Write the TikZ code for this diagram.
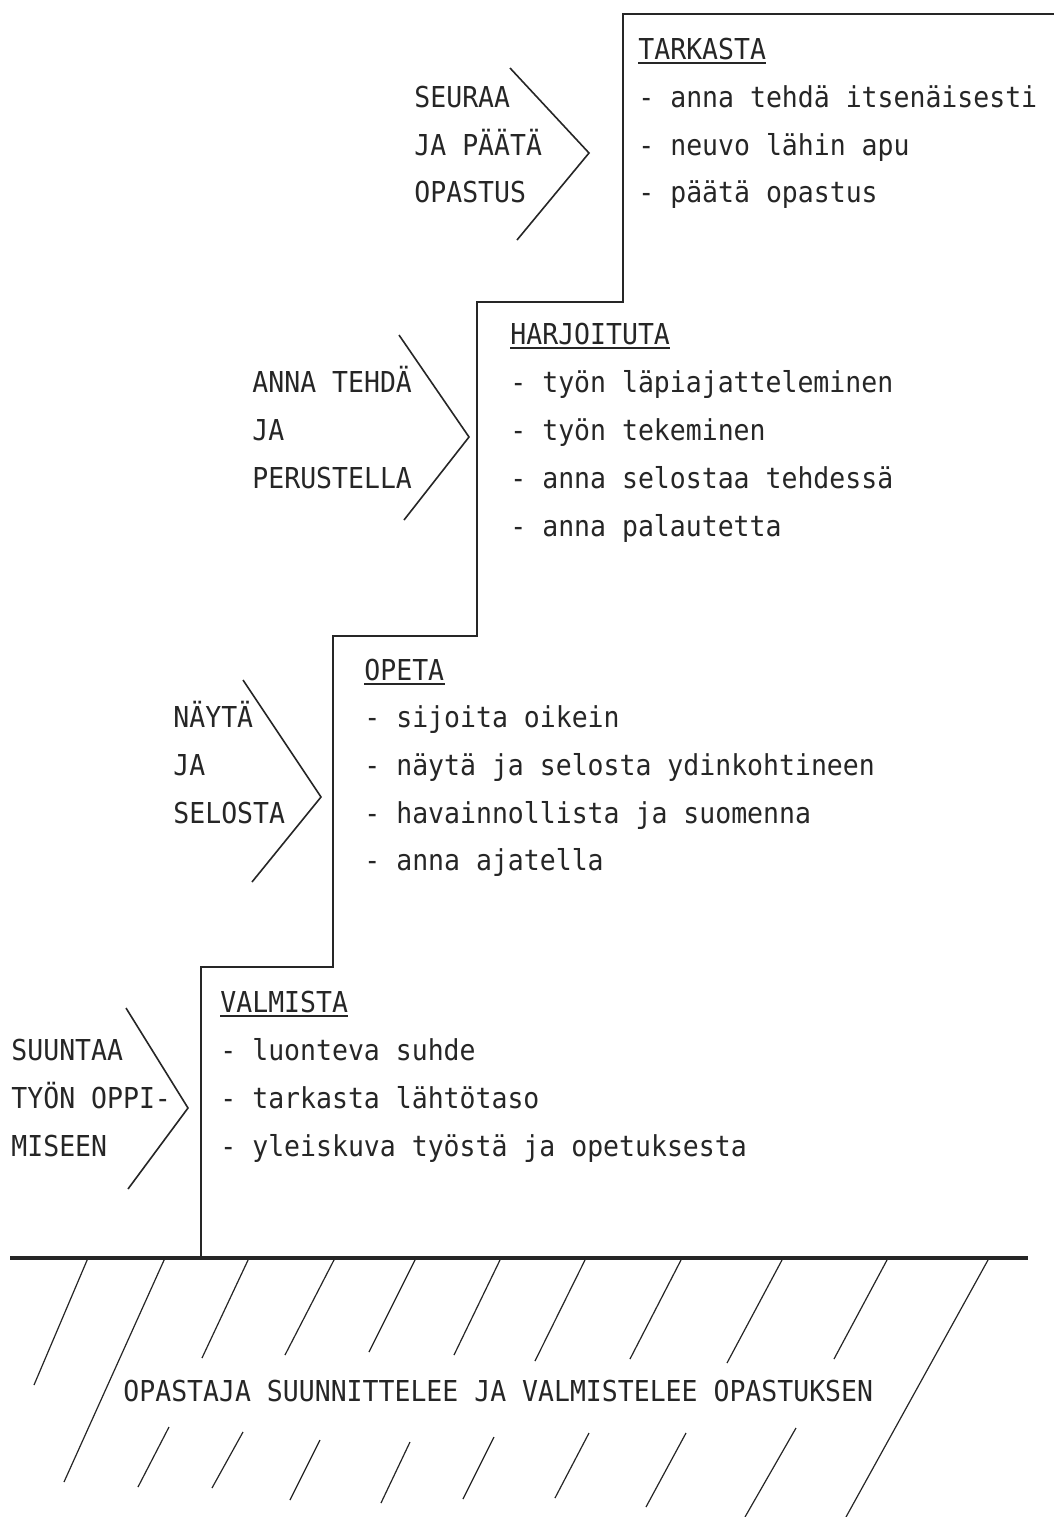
\documentclass[tikz,border=0pt]{standalone}
\usepackage{fontspec}
\newfontfamily\tw[FakeStretch=0.92]{DejaVu Sans Mono}
\definecolor{ink}{HTML}{262626}
\begin{document}
\begin{tikzpicture}[x=0.5pt,y=-0.5pt,
  txt/.style={anchor=base west, inner sep=0pt, text=ink, font=\tw\fontsize{14.4}{17}\selectfont},
  stair/.style={draw=ink, line width=1.3pt, line join=miter},
  ground/.style={draw=ink, line width=2pt},
  chev/.style={draw=ink, line width=0.8pt},
  hatch/.style={draw=ink, line width=0.6pt},
  uline/.style={draw=ink, line width=1pt}]
\useasboundingbox (0,0) rectangle (1054,1517);
\fill[white] (0,0) rectangle (1054,1517);

% stair outline
\draw[stair] (1054,14) -- (623,14) -- (623,302) -- (477,302) -- (477,636)
  -- (333,636) -- (333,967) -- (201,967) -- (201,1258);
% ground
\draw[ground] (10,1258) -- (1028,1258);

% chevrons
\draw[chev] (510,68) -- (589,153) -- (517,240);
\draw[chev] (399,335) -- (469,437) -- (404,520);
\draw[chev] (243,680) -- (321,797) -- (252,882);
\draw[chev] (126,1008) -- (188,1108) -- (128,1189);

% hatching, upper row
\draw[hatch] (88,1258) -- (34,1385);
\draw[hatch] (165,1258) -- (64,1482);
\draw[hatch] (249,1258) -- (202,1358);
\draw[hatch] (335,1258) -- (285,1355);
\draw[hatch] (416,1258) -- (369,1352);
\draw[hatch] (500,1260) -- (454,1355);
\draw[hatch] (585,1260) -- (535,1361);
\draw[hatch] (681,1260) -- (630,1359);
\draw[hatch] (782,1260) -- (727,1363);
\draw[hatch] (887,1260) -- (834,1359);
\draw[hatch] (988,1260) -- (846,1517);
% hatching, lower row
\draw[hatch] (169,1427) -- (138,1487);
\draw[hatch] (243,1432) -- (212,1488);
\draw[hatch] (320,1440) -- (290,1500);
\draw[hatch] (410,1442) -- (381,1503);
\draw[hatch] (494,1437) -- (463,1499);
\draw[hatch] (589,1433) -- (555,1498);
\draw[hatch] (686,1433) -- (646,1507);
\draw[hatch] (796,1428) -- (745,1517);

% TARKASTA block
\node[txt] (h1) at (638,59) {TARKASTA};
\node[txt] (a1) at (638,107) {- anna tehdä itsenäisesti};
\node[txt] (a2) at (638,155) {- neuvo lähin apu};
\node[txt] (a3) at (638,202) {- päätä opastus};
\node[txt] (s1) at (414,107) {SEURAA};
\node[txt] (s2) at (414,155) {JA PÄÄTÄ};
\node[txt] (s3) at (414,202) {OPASTUS};

% HARJOITUTA block
\node[txt] (h2) at (510,344) {HARJOITUTA};
\node[txt] (b1) at (510,392) {- työn läpiajatteleminen};
\node[txt] (b2) at (510,440) {- työn tekeminen};
\node[txt] (b3) at (510,488) {- anna selostaa tehdessä};
\node[txt] (b4) at (510,536) {- anna palautetta};
\node[txt] (r1) at (252,392) {ANNA TEHDÄ};
\node[txt] (r2) at (252,440) {JA};
\node[txt] (r3) at (252,488) {PERUSTELLA};

% OPETA block
\node[txt] (h3) at (364,680) {OPETA};
\node[txt] (c1) at (364,727) {- sijoita oikein};
\node[txt] (c2) at (364,775) {- näytä ja selosta ydinkohtineen};
\node[txt] (c3) at (364,823) {- havainnollista ja suomenna};
\node[txt] (c4) at (364,870) {- anna ajatella};
\node[txt] (n1) at (173,727) {NÄYTÄ};
\node[txt] (n2) at (173,775) {JA};
\node[txt] (n3) at (173,823) {SELOSTA};

% VALMISTA block
\node[txt] (h4) at (220,1012) {VALMISTA};
\node[txt] (d1) at (220,1060) {- luonteva suhde};
\node[txt] (d2) at (220,1108) {- tarkasta lähtötaso};
\node[txt] (d3) at (220,1156) {- yleiskuva työstä ja opetuksesta};
\node[txt] (m1) at (11,1060) {SUUNTAA};
\node[txt] (m2) at (11,1108) {TYÖN OPPI-};
\node[txt] (m3) at (11,1156) {MISEEN};

% underlines
\foreach \h in {h1,h2,h3,h4}
  \draw[uline] ([yshift=-2.2pt]\h.base west) -- ([yshift=-2.2pt]\h.base east);

% ground text
\node[txt] (g) at (123,1401) {OPASTAJA SUUNNITTELEE JA VALMISTELEE OPASTUKSEN};
\end{tikzpicture}
\end{document}
